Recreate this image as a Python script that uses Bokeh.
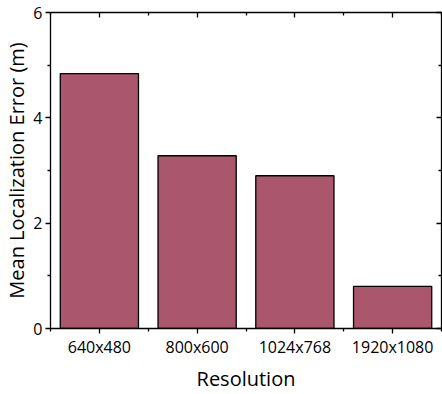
from bokeh.plotting import figure
from bokeh.models import LinearAxis, FixedTicker, Range1d
from bokeh.embed import file_html
from bokeh.resources import INLINE

categories = ["640x480", "800x600", "1024x768", "1920x1080"]
values = [4.84, 3.28, 2.90, 0.80]
y_ticks = [0, 2, 4, 6]
y_minor = [1, 3, 5]

positions = [i + 1 for i in range(len(categories))]
x_minor = [i + 0.5 for i in range(len(categories) + 1)]

FONT = "Open Sans"

p = figure(width=442, height=394, output_backend="svg", toolbar_location=None,
           x_range=Range1d(0.5, len(categories) + 0.5), y_range=Range1d(0, 6),
           min_border_left=49, min_border_right=1, min_border_top=12, min_border_bottom=66)
p.xgrid.visible = False
p.ygrid.visible = False
p.outline_line_color = "black"
p.background_fill_color = "white"
p.border_fill_color = "white"

p.vbar(x=positions, top=values, width=0.8, bottom=0,
       fill_color="#AA566C", line_color="black", line_width=1.3)

xt = FixedTicker(ticks=positions, minor_ticks=x_minor)
yt = FixedTicker(ticks=y_ticks, minor_ticks=y_minor)

xa = p.xaxis[0]
xa.ticker = xt
xa.major_label_overrides = {pos: c for pos, c in zip(positions, categories)}
xa.axis_label = "Resolution"
ya = p.yaxis[0]
ya.ticker = yt
ya.axis_label = "Mean Localization Error (m)"

for ax in (xa, ya):
    ax.axis_line_color = "black"
    ax.axis_line_width = 1.3
    ax.major_tick_line_color = "black"
    ax.minor_tick_line_color = "black"
    ax.major_tick_line_width = 1.3
    ax.minor_tick_line_width = 1.3
    ax.major_tick_out = 5
    ax.major_tick_in = 0
    ax.minor_tick_out = 3
    ax.minor_tick_in = 0
    ax.major_label_text_font = FONT
    ax.major_label_text_font_size = "16px"
    ax.major_label_text_color = "black"
    ax.axis_label_text_font = FONT
    ax.axis_label_text_font_size = "20px"
    ax.axis_label_text_font_style = "normal"
    ax.axis_label_text_color = "black"

xa.major_label_standoff = 2
xa.axis_label_standoff = 4
ya.major_label_standoff = 3
ya.axis_label_standoff = 0

top = LinearAxis(ticker=FixedTicker(ticks=positions, minor_ticks=x_minor))
right = LinearAxis(ticker=FixedTicker(ticks=y_ticks, minor_ticks=y_minor))
for ax in (top, right):
    ax.axis_line_color = "black"
    ax.axis_line_width = 1.3
    ax.major_tick_line_color = "black"
    ax.minor_tick_line_color = "black"
    ax.major_tick_line_width = 1.3
    ax.minor_tick_line_width = 1.3
    ax.major_tick_in = 5
    ax.major_tick_out = 0
    ax.minor_tick_in = 3
    ax.minor_tick_out = 0
    ax.major_label_text_font_size = "0px"
    ax.major_label_text_alpha = 0
    ax.major_label_standoff = 0
p.add_layout(top, "above")
p.add_layout(right, "right")

open("out.html", "w").write(file_html(p, INLINE))
